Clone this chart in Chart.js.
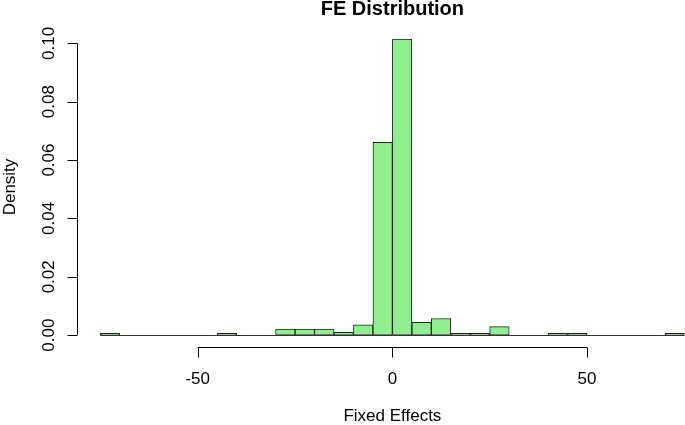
<!DOCTYPE html>
<html>
<head>
<meta charset="utf-8">
<script src="https://cdn.jsdelivr.net/npm/chart.js@4"></script>
<style>
  html, body { margin: 0; padding: 0; background: #fff; overflow: hidden; }
  #wrap { width: 685px; height: 425px; }
</style>
</head>
<body>
<div id="wrap"><canvas id="hist" width="685" height="425"></canvas></div>
<script>
// histogram bins (width 5) from -75 to 75
const binStarts = [-75, -70, -65, -60, -55, -50, -45, -40, -35, -30, -25, -20, -15, -10, -5,
                   0, 5, 10, 15, 20, 25, 30, 35, 40, 45, 50, 55, 60, 65, 70];
const densities = [0.0006, 0, 0, 0, 0, 0, 0.0006, 0, 0, 0.0021, 0.0021, 0.0021, 0.0010, 0.0035, 0.0661,
                   0.1015, 0.0044, 0.0057, 0.0006, 0.0006, 0.0029, 0, 0, 0.0006, 0.0006, 0, 0, 0, 0, 0.0006];
const binWidth = 5;
const xTicks = [-50, 0, 50];
const yTicks = [0, 0.02, 0.04, 0.06, 0.08, 0.10];
const yTickLabels = ["0.00", "0.02", "0.04", "0.06", "0.08", "0.10"];

const FONT = '"Liberation Sans", Arial, sans-serif';

// R-style detached axes, title and labels
const rAxes = {
    id: "rAxes",
    afterDatasetsDraw(chart) {
        const ctx = chart.ctx;
        const xs = chart.scales.x;
        const ys = chart.scales.y;
        const area = chart.chartArea;
        ctx.save();
        ctx.lineWidth = 1;
        ctx.fillStyle = "#000";

        // baseline under the empty bins
        const y0 = Math.round(ys.getPixelForValue(0)) + 0.5;
        ctx.strokeStyle = "#333";
        ctx.beginPath();
        ctx.moveTo(xs.getPixelForValue(binStarts[0]), y0);
        ctx.lineTo(xs.getPixelForValue(binStarts[binStarts.length - 1] + binWidth), y0);
        ctx.stroke();
        ctx.strokeStyle = "#000";

        // x axis
        const xa = Math.round(area.bottom) + 0.5;
        ctx.beginPath();
        ctx.moveTo(xs.getPixelForValue(xTicks[0]), xa);
        ctx.lineTo(xs.getPixelForValue(xTicks[xTicks.length - 1]), xa);
        for (const t of xTicks) {
            const px = Math.round(xs.getPixelForValue(t)) + 0.5;
            ctx.moveTo(px, xa);
            ctx.lineTo(px, xa + 10);
        }
        ctx.stroke();
        ctx.font = "17px " + FONT;
        ctx.textAlign = "center";
        ctx.textBaseline = "middle";
        for (const t of xTicks) {
            ctx.fillText(String(t), xs.getPixelForValue(t), 379);
        }

        // y axis
        const ya = Math.round(area.left) + 0.5;
        ctx.beginPath();
        ctx.moveTo(ya, ys.getPixelForValue(yTicks[0]));
        ctx.lineTo(ya, ys.getPixelForValue(yTicks[yTicks.length - 1]));
        for (const t of yTicks) {
            const py = Math.round(ys.getPixelForValue(t)) + 0.5;
            ctx.moveTo(ya, py);
            ctx.lineTo(ya - 10, py);
        }
        ctx.stroke();
        yTicks.forEach((t, i) => {
            ctx.save();
            ctx.translate(49, ys.getPixelForValue(t));
            ctx.rotate(-Math.PI / 2);
            ctx.fillText(yTickLabels[i], 0, 0);
            ctx.restore();
        });

        // axis titles
        const cx = xs.getPixelForValue(0);
        ctx.fillText("Fixed Effects", cx, 416);
        ctx.save();
        ctx.translate(10, (area.top + area.bottom) / 2);
        ctx.rotate(-Math.PI / 2);
        ctx.fillText("Density", 0, 0);
        ctx.restore();

        // main title
        ctx.font = "bold 20px " + FONT;
        ctx.fillText("FE Distribution", cx, 9);
        ctx.restore();
    }
};

new Chart("hist", {
    type: "bar",
    data: {
        datasets: [{
            data: binStarts.map((b, i) => ({ x: b + binWidth / 2, y: densities[i] })),
            backgroundColor: "#90EE90",
            borderColor: "#222",
            borderWidth: 1,
            borderSkipped: false,
            barPercentage: 1,
            categoryPercentage: 1
        }]
    },
    plugins: [rAxes],
    options: {
        responsive: false,
        animation: false,
        events: [],
        layout: { padding: { left: 77, right: 0, top: 27, bottom: 78 } },
        plugins: {
            legend: { display: false },
            tooltip: { enabled: false },
            title: { display: false }
        },
        scales: {
            x: { type: "linear", min: -81, max: 75.15, display: false, offset: false },
            y: { min: -0.00406, max: 0.1056, display: false }
        }
    }
});
</script>
</body>
</html>
